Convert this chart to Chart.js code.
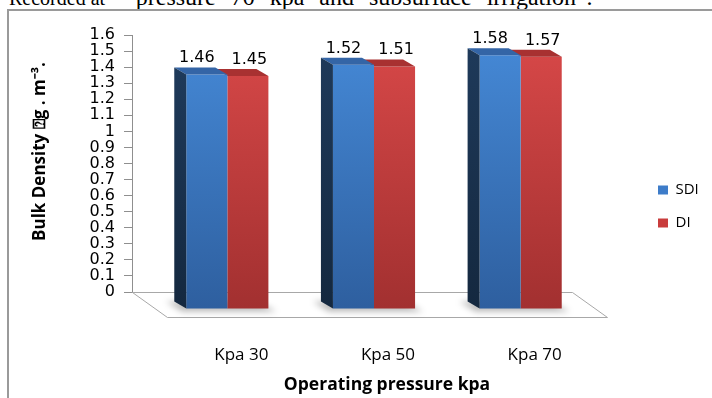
<!DOCTYPE html>
<html>
<head>
<meta charset="utf-8">
<script src="https://cdn.jsdelivr.net/npm/chart.js"></script>
<style>
  html, body { margin: 0; padding: 0; background: #fff; width: 712px; height: 398px; overflow: hidden; }
  #caption { position: absolute; left: 9px; top: -15px; font: 24px "Liberation Serif", serif; line-height: 24px; white-space: nowrap; color: #000; }
  #caption .lead { font-size: 20px; }
  #caption .rest { margin-left: 14px; word-spacing: 9px; }
  #frame { position: absolute; left: 7px; top: 9px; width: 800px; height: 500px; border: 2px solid #9a9a9a; }
  #c { position: absolute; left: 0; top: 0; }
</style>
</head>
<body>
<div id="caption"><span class="lead">Recorded at</span> <span class="rest">“pressure 70 kpa and subsurface irrigation”.</span></div>
<div id="frame"></div>
<canvas id="c" width="712" height="398"></canvas>
<script>
// Bulk density by operating pressure, subsurface (SDI) vs surface drip (DI)
const categories = ['Kpa 30', 'Kpa 50', 'Kpa 70'];
const seriesNames = ['SDI', 'DI'];
const sdiValues = [1.46, 1.52, 1.58];
const diValues = [1.45, 1.51, 1.57];
const yMin = 0;
const yMax = 1.6;
const yStep = 0.1;
const xTitle = 'Operating pressure kpa';
const yTitle = 'Bulk Density \u2370g . m\u207B\u00B3.';

const palette = {
  sdi: { front: ['#4487d4', '#2e5f9f'], top: '#3465a6', side: ['#1e3959', '#14283f'], key: '#3d7cc9' },
  di:  { front: ['#d54747', '#a23030'], top: '#a83131', key: '#c93c3c' }
};

// 3D look: bars stand in front of the back wall, the floor recedes up-left
const DEPTH = { x: 22, y: 17 };
const FLOOR = { x: 35, y: 25 };
const BEVEL = { x: 12, y: 7 };

function frontFill(colors) {
  return (c) => {
    const a = c.chart.chartArea;
    if (!a) return colors[0];
    const g = c.chart.ctx.createLinearGradient(0, a.top, 0, a.bottom);
    g.addColorStop(0, colors[0]);
    g.addColorStop(1, colors[1]);
    return g;
  };
}

const solidBars = {
  id: 'solidBars',
  afterLayout(chart) {
    // legend sits out to the right, beside the floor
    const lg = chart.legend;
    const a = chart.chartArea;
    lg.left = a.right + 68;
    lg.right = lg.left + lg.width;
    lg.top = 160;
    lg.bottom = 253;
    lg.height = lg.bottom - lg.top;
  },
  beforeDatasetsDraw(chart) {
    const { ctx, chartArea: a } = chart;
    const l = Math.round(a.left) + 0.5, r = Math.round(a.right) + 0.5, b = Math.round(a.bottom) + 0.5;
    ctx.save();
    ctx.beginPath();
    ctx.moveTo(l, b);
    ctx.lineTo(r, b);
    ctx.lineTo(r + FLOOR.x, b + FLOOR.y);
    ctx.lineTo(l + FLOOR.x, b + FLOOR.y);
    ctx.closePath();
    ctx.fillStyle = '#fff';
    ctx.fill();
    ctx.strokeStyle = '#a8a8a8';
    ctx.lineWidth = 1;
    ctx.stroke();

    // soft shadow under each pair of bars
    const m0 = chart.getDatasetMeta(0), m1 = chart.getDatasetMeta(1);
    ctx.filter = 'blur(3px)';
    ctx.fillStyle = 'rgba(0,0,0,0.28)';
    m0.data.forEach((bar0, i) => {
      const bar1 = m1.data[i];
      const x0 = bar0.x - bar0.width / 2 + DEPTH.x;
      const x1 = bar1.x + bar1.width / 2 + DEPTH.x;
      const yb = bar0.base + DEPTH.y;
      ctx.beginPath();
      ctx.moveTo(x0 - BEVEL.x - 8, yb - BEVEL.y);
      ctx.lineTo(x1 - BEVEL.x, yb - BEVEL.y);
      ctx.lineTo(x1 + 8, yb + 3);
      ctx.lineTo(x0 - 4, yb + 3);
      ctx.closePath();
      ctx.fill();
    });
    ctx.restore();
  },
  beforeDatasetDraw(chart) {
    chart.ctx.save();
    chart.ctx.translate(DEPTH.x, DEPTH.y);
  },
  afterDatasetDraw(chart, args) {
    const ctx = chart.ctx;
    const p = args.index === 0 ? palette.sdi : palette.di;
    args.meta.data.forEach((bar) => {
      const { x, y, base, width } = bar.getProps(['x', 'y', 'base', 'width'], true);
      const x0 = x - width / 2, x1 = x + width / 2;
      // top face
      ctx.beginPath();
      ctx.moveTo(x0, y);
      ctx.lineTo(x1, y);
      ctx.lineTo(x1 - BEVEL.x, y - BEVEL.y);
      ctx.lineTo(x0 - BEVEL.x, y - BEVEL.y);
      ctx.closePath();
      ctx.fillStyle = p.top;
      ctx.fill();
      // left side face
      if (p.side) {
        const g = ctx.createLinearGradient(0, y, 0, base);
        g.addColorStop(0, p.side[0]);
        g.addColorStop(1, p.side[1]);
        ctx.beginPath();
        ctx.moveTo(x0, y);
        ctx.lineTo(x0 - BEVEL.x, y - BEVEL.y);
        ctx.lineTo(x0 - BEVEL.x, base - BEVEL.y);
        ctx.lineTo(x0, base);
        ctx.closePath();
        ctx.fillStyle = g;
        ctx.fill();
      }
    });
    ctx.restore();
  },
  afterDatasetsDraw(chart) {
    const ctx = chart.ctx;
    const a = chart.chartArea;
    ctx.save();
    // value labels above the bars
    ctx.font = '16px "DejaVu Sans"';
    ctx.fillStyle = '#000';
    ctx.textAlign = 'center';
    ctx.textBaseline = 'alphabetic';
    chart.data.datasets.forEach((ds, di) => {
      const shift = di === 0 ? -10 : 1.5;
      chart.getDatasetMeta(di).data.forEach((bar, i) => {
        ctx.fillText(String(ds.data[i]), bar.x + DEPTH.x + shift, bar.y + DEPTH.y - 12);
      });
    });
    // axis titles
    ctx.textBaseline = 'middle';
    ctx.font = 'bold 17.5px "Open Sans"';
    ctx.fillText(xTitle, (a.left + a.right) / 2 + FLOOR.x, chart.scales.x.bottom - 10);
    ctx.translate(chart.scales.y.left + 40, (a.top + a.bottom) / 2 - 12);
    ctx.rotate(-Math.PI / 2);
    ctx.font = 'bold 17px "Open Sans"';
    ctx.fillText(yTitle, 0, 0);
    ctx.restore();
  }
};

Chart.defaults.color = '#000';

new Chart(document.getElementById('c'), {
  type: 'bar',
  data: {
    labels: categories,
    datasets: [
      { label: seriesNames[0], data: sdiValues, backgroundColor: frontFill(palette.sdi.front), borderWidth: 0, clip: false },
      { label: seriesNames[1], data: diValues, backgroundColor: frontFill(palette.di.front), borderWidth: 0, clip: false }
    ]
  },
  options: {
    responsive: false,
    devicePixelRatio: 1,
    animation: false,
    layout: { padding: { left: 0, right: 80, top: 35, bottom: 3 } },
    datasets: { bar: { categoryPercentage: 0.56, barPercentage: 1.0 } },
    scales: {
      x: {
        grid: { display: false },
        border: { display: false },
        ticks: { labelOffset: 36, padding: 45, maxRotation: 0, autoSkip: false, font: { family: 'Open Sans', size: 17 } },
        afterFit(s) { s.height = 103; }
      },
      y: {
        min: yMin,
        max: yMax,
        grid: { drawOnChartArea: false, drawTicks: true, tickLength: 8, color: '#8f8f8f' },
        border: { display: true, color: '#8f8f8f' },
        ticks: {
          stepSize: yStep,
          autoSkip: false,
          padding: 9,
          font: { family: 'DejaVu Sans', size: 16, lineHeight: 1 },
          callback: (v) => String(Math.round(v * 10) / 10)
        },
        afterFit(s) { s.width = 132; }
      }
    },
    plugins: {
      tooltip: { enabled: false },
      legend: {
        position: 'right',
        maxWidth: 60,
        labels: {
          boxWidth: 10,
          boxHeight: 9,
          padding: 18,
          font: { family: 'Open Sans', size: 15 },
          generateLabels(chart) {
            return chart.data.datasets.map((ds, i) => ({
              text: ds.label,
              fillStyle: i === 0 ? palette.sdi.key : palette.di.key,
              strokeStyle: 'rgba(0,0,0,0)',
              lineWidth: 0,
              hidden: false,
              datasetIndex: i,
              fontColor: '#000'
            }));
          }
        }
      }
    }
  },
  plugins: [solidBars]
});
</script>
</body>
</html>
